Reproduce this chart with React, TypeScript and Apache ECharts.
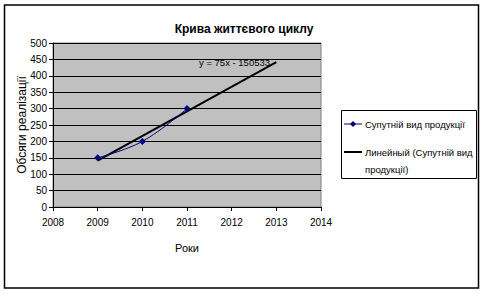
import React, { useEffect, useRef } from "react";
import * as echarts from "echarts";

const years = [2009, 2010, 2011];
const sales = [150, 200, 300];
const trendYears = [2009, 2013];
const trendSlope = 75;
const trendIntercept = -150533.33;
const xTicks = [2008, 2014];
const yRange = [0, 500];

const title = "Крива життєвого циклу";
const seriesName = "Супутній вид продукції";
const trendName = "Линейный (Супутній вид продукції)";
const equation = "y = 75x - 150533";

export default function App() {
  const ref = useRef<HTMLDivElement>(null);
  useEffect(() => {
    const chart = echarts.init(ref.current!, null, { renderer: "svg" });
    const font = "Liberation Sans, Arial, sans-serif";
    chart.setOption({
      animation: false,
      backgroundColor: "#ffffff",
      textStyle: { fontFamily: font },
      title: {
        text: title,
        left: 239,
        top: 18,
        textAlign: "center",
        textStyle: { fontSize: 12, fontWeight: "bold", color: "#000", fontFamily: font },
      },
      grid: {
        left: 53,
        top: 43,
        width: 268,
        height: 164,
        show: true,
        backgroundColor: "#C0C0C0",
        borderColor: "#808080",
        borderWidth: 1,
      },
      xAxis: {
        type: "value",
        min: xTicks[0],
        max: xTicks[1],
        interval: 1,
        name: "Роки",
        nameLocation: "middle",
        nameGap: 35,
        nameMoveOverlap: false,
        nameTextStyle: { fontSize: 11, color: "#000", fontFamily: font },
        axisLine: { show: true, onZero: false, lineStyle: { color: "#000", width: 1 } },
        axisTick: { show: true, length: 4, lineStyle: { color: "#000" } },
        axisLabel: {
          fontSize: 10,
          color: "#000",
          margin: 10,
          fontFamily: font,
          formatter: (v: number) => String(v),
        },
        splitLine: { show: false },
      },
      yAxis: {
        type: "value",
        min: yRange[0],
        max: yRange[1],
        interval: 50,
        name: "Обсяги реалізації",
        nameLocation: "middle",
        nameGap: 25,
        nameMoveOverlap: false,
        nameTextStyle: { fontSize: 12, color: "#000", fontFamily: font },
        axisLine: { show: true, lineStyle: { color: "#000", width: 1 } },
        axisTick: { show: true, length: 4, lineStyle: { color: "#000" } },
        axisLabel: { fontSize: 10, color: "#000", margin: 6, fontFamily: font },
        splitLine: { show: true, lineStyle: { color: "#000", width: 1 } },
      },
      series: [
        {
          name: seriesName,
          type: "line",
          smooth: 0.4,
          data: years.map((y, i) => [y, sales[i]]),
          symbol: "diamond",
          symbolSize: 7,
          itemStyle: { color: "#000080" },
          lineStyle: { color: "#000080", width: 1 },
          z: 3,
        },
        {
          name: trendName,
          type: "line",
          data: trendYears.map((y) => [y, trendSlope * y + trendIntercept]),
          symbol: "none",
          lineStyle: { color: "#000", width: 2 },
          z: 2,
        },
      ],
      graphic: [
        {
          type: "rect",
          shape: { x: 4.5, y: 5, width: 474, height: 283 },
          style: { fill: "none", stroke: "#000", lineWidth: 1.5 },
          silent: true,
        },
        {
          type: "text",
          x: 199,
          y: 62,
          style: { text: equation, fontSize: 9.5, fill: "#000", verticalAlign: "middle", fontFamily: font },
          z: 10,
        },
        {
          type: "rect",
          shape: { x: 341.5, y: 110.5, width: 135, height: 68 },
          style: { fill: "#fff", stroke: "#000", lineWidth: 1 },
        },
        {
          type: "line",
          shape: { x1: 344, y1: 124, x2: 362, y2: 124 },
          style: { stroke: "#000080", lineWidth: 1 },
        },
        {
          type: "polygon",
          shape: { points: [[353, 121], [356, 124], [353, 127], [350, 124]] },
          style: { fill: "#000080" },
        },
        {
          type: "text",
          x: 365,
          y: 124,
          style: { text: seriesName, fontSize: 9.5, fill: "#000", verticalAlign: "middle", fontFamily: font },
        },
        {
          type: "line",
          shape: { x1: 344, y1: 152, x2: 362, y2: 152 },
          style: { stroke: "#000", lineWidth: 2 },
        },
        {
          type: "text",
          x: 365,
          y: 152,
          style: { text: "Линейный (Супутній вид", fontSize: 9.5, fill: "#000", verticalAlign: "middle", fontFamily: font },
        },
        {
          type: "text",
          x: 365,
          y: 169,
          style: { text: "продукції)", fontSize: 9.5, fill: "#000", verticalAlign: "middle", fontFamily: font },
        },
      ],
    });
    return () => chart.dispose();
  }, []);
  return (
    <div
      ref={ref}
      style={{ position: "absolute", left: 0, top: 0, width: 483, height: 294 }}
    />
  );
}
